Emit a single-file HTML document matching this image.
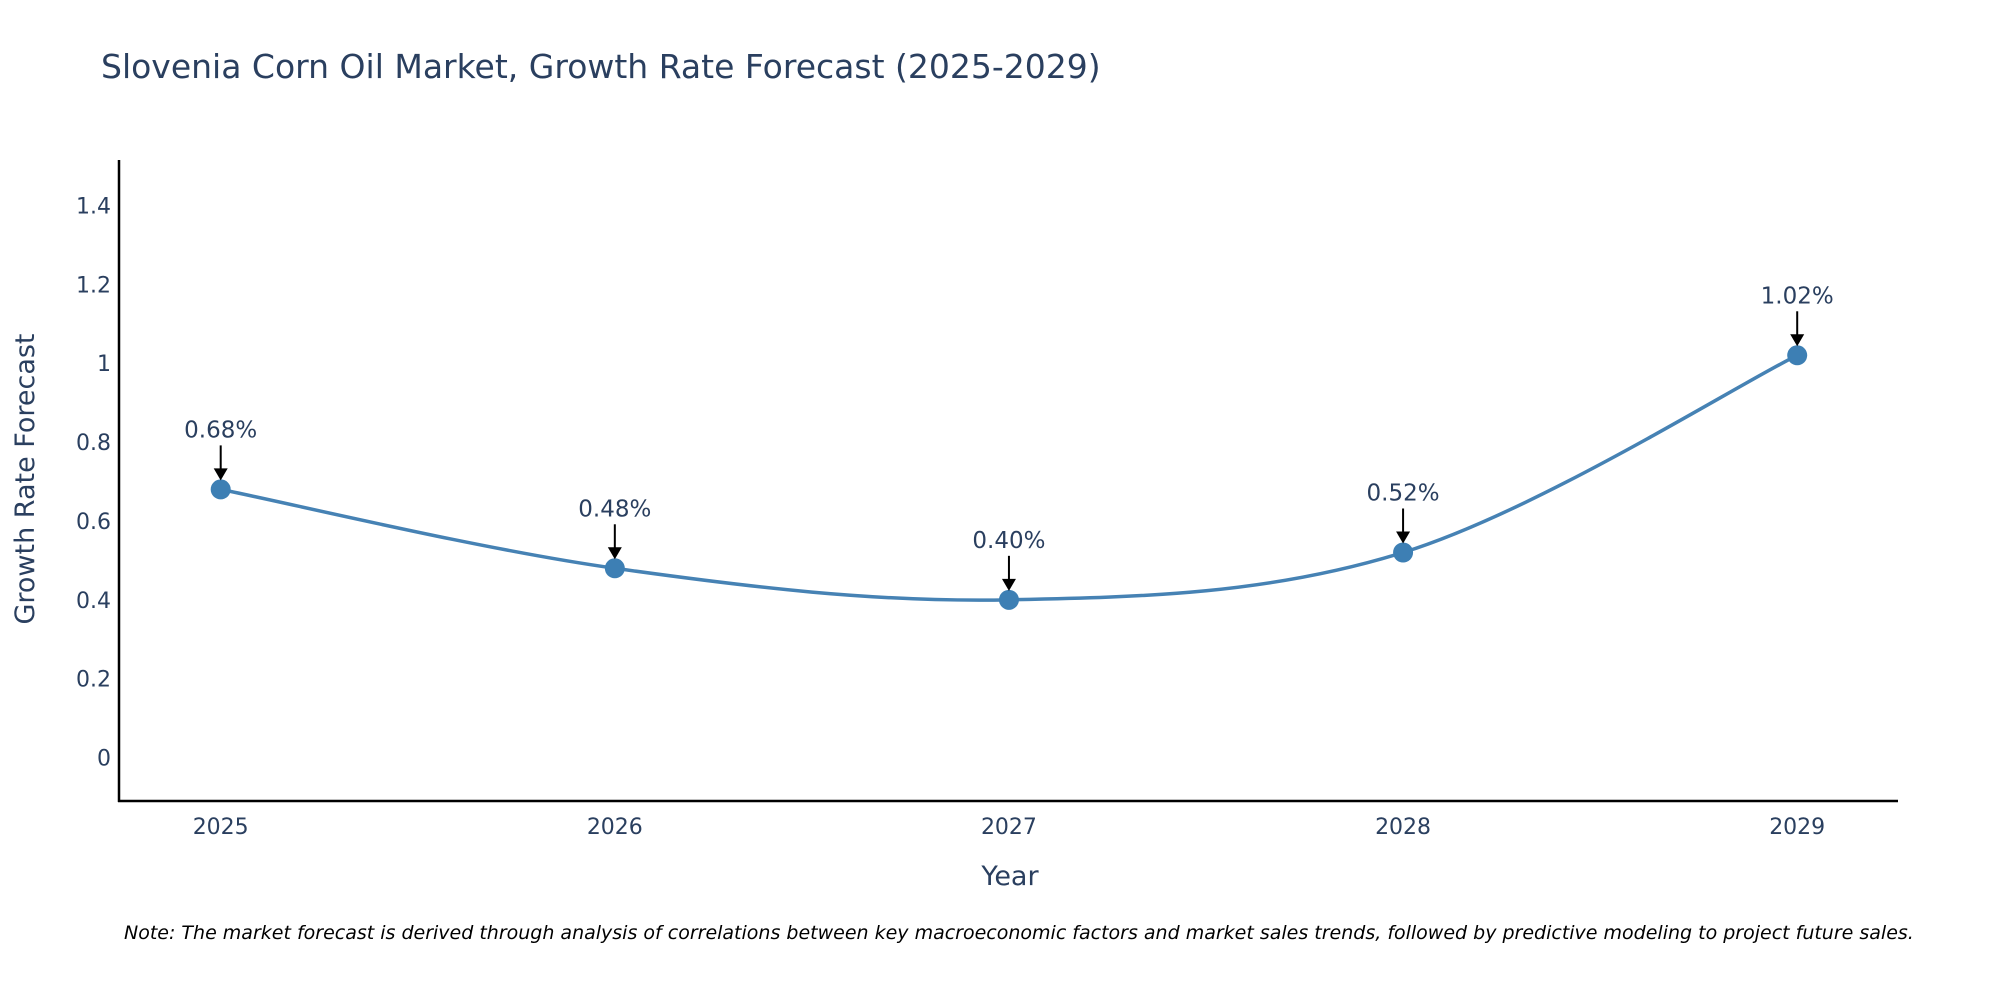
<!DOCTYPE html>
<html><head><meta charset="utf-8">
<style>
body{margin:0;background:#fff;}
svg text{font-family:"DejaVu Sans","Liberation Sans",sans-serif;fill:#2a3f5f;}
</style></head>
<body>
<svg id="chart" width="2000" height="1000" xmlns="http://www.w3.org/2000/svg">
<text x="101" y="78" font-size="33">Slovenia Corn Oil Market, Growth Rate Forecast (2025-2029)</text>
<g id="yticks"></g>
<g id="xticks"></g>
<line x1="119" y1="160" x2="119" y2="802" stroke="#000" stroke-width="2.5"/>
<line x1="118" y1="801" x2="1898" y2="801" stroke="#000" stroke-width="2.5"/>
<path id="line" fill="none" stroke="#4682b4" stroke-width="3.5"/>
<g id="points"></g>
<g id="annos"></g>
<text transform="translate(34,479) rotate(-90)" text-anchor="middle" font-size="27">Growth Rate Forecast</text>
<text x="1010" y="885" text-anchor="middle" font-size="27">Year</text>
<text x="124" y="939" font-size="19" font-style="italic" style="fill:#000">Note: The market forecast is derived through analysis of correlations between key macroeconomic factors and market sales trends, followed by predictive modeling to project future sales.</text>
</svg>
<script>
const years = ["2025","2026","2027","2028","2029"];
const values = [0.68, 0.48, 0.40, 0.52, 1.02];
const labels = ["0.68%","0.48%","0.40%","0.52%","1.02%"];
const yTicks = [0,0.2,0.4,0.6,0.8,1,1.2,1.4];
const yTickLabels = ["0","0.2","0.4","0.6","0.8","1","1.2","1.4"];

const NS="http://www.w3.org/2000/svg";
function X(i){return 220.7 + i*(1797.2-220.7)/(years.length-1);}
function Y(v){return 757.6 - v*(757.6-205.4)/1.4;}
function mk(tag,attrs,parent){const e=document.createElementNS(NS,tag);for(const k in attrs)e.setAttribute(k,attrs[k]);parent.appendChild(e);return e;}

const yt=document.getElementById('yticks');
yTicks.forEach((t,i)=>{const e=mk('text',{x:111,y:Y(t)+8,'text-anchor':'end','font-size':22},yt);


e.textContent=yTickLabels[i];});
const xt=document.getElementById('xticks');
years.forEach((y,i)=>{const e=mk('text',{x:X(i),y:834,'text-anchor':'middle','font-size':22},xt);


e.textContent=y;});

const pts=values.map((v,i)=>[X(i),Y(v)]);
let d=`M${pts[0][0]},${pts[0][1]}`;
const s=0.17;
for(let i=0;i<pts.length-1;i++){
 const p0=pts[Math.max(0,i-1)],p1=pts[i],p2=pts[i+1],p3=pts[Math.min(pts.length-1,i+2)];
 const c1=[p1[0]+(p2[0]-p0[0])*s,p1[1]+(p2[1]-p0[1])*s];
 const c2=[p2[0]-(p3[0]-p1[0])*s,p2[1]-(p3[1]-p1[1])*s];
 d+=` C${c1[0]},${c1[1]} ${c2[0]},${c2[1]} ${p2[0]},${p2[1]}`;
}
document.getElementById('line').setAttribute('d',d);

const pg=document.getElementById('points'),ag=document.getElementById('annos');
pts.forEach((p,i)=>{
 const c=mk('circle',{cx:p[0],cy:p[1],r:10,fill:'#3d7fb4'},pg);
 
 
 const l=mk('line',{x1:p[0],y1:p[1]-44,x2:p[0],y2:p[1]-20,stroke:'#000','stroke-width':2},ag);
 
 
 const h=mk('polygon',{points:`${p[0]-7},${p[1]-21} ${p[0]+7},${p[1]-21} ${p[0]},${p[1]-9}`,fill:'#000'},ag);
 
 
 const t=mk('text',{x:p[0],y:p[1]-52,'text-anchor':'middle','font-size':23},ag);
 
 
 t.textContent=labels[i];
});
</script>
</body></html>
